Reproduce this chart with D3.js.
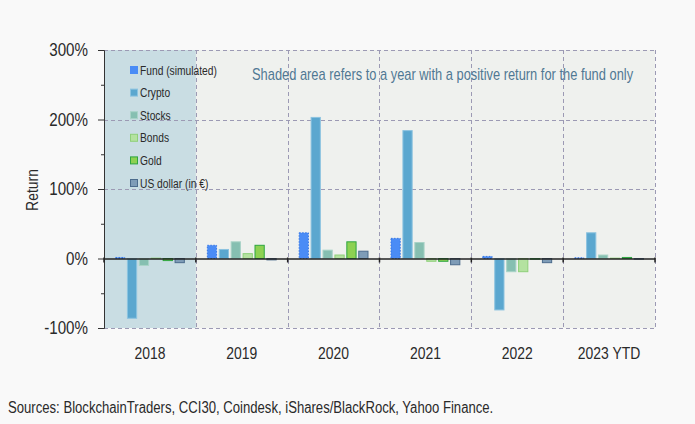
<!DOCTYPE html>
<html>
<head>
<meta charset="utf-8">
<script src="https://cdn.jsdelivr.net/npm/d3@7"></script>
<style>
  body { margin:0; background:#f9f9f9; }
  svg text { font-family: "Liberation Sans", Arial, sans-serif; }
</style>
</head>
<body>
<svg id="chart" width="695" height="424"></svg>
<script>
// data (returns in %)
let years = ["2018", "2019", "2020", "2021", "2022", "2023 YTD"];
let seriesNames = ["Fund (simulated)", "Crypto", "Stocks", "Bonds", "Gold", "US dollar (in €)"];
let fund   = [1.5, 19, 37, 29, 3, 1];
let crypto = [-86, 13, 203, 184, -74, 37];
let stocks = [-10, 24, 12, 23, -19, 5];
let bonds  = [0.5, 7, 5, -4, -19, 0.5];
let gold   = [-3, 19, 24, -4, -1, 1.5];
let usd    = [-6, -2, 10.5, -9, -6, -1];
let yTicks = [-100, 0, 100, 200, 300];
let shadedYears = ["2018"];

let seriesValues = [fund, crypto, stocks, bonds, gold, usd];
let styles = [
  {fill:"#4a8cf6", stroke:"#3576e6", dash:"1.5,1.5"},
  {fill:"#5ba7cf", stroke:"#8cc3e0", dash:null},
  {fill:"#86bfb1", stroke:"#a9d3c7", dash:null},
  {fill:"#b4e2a0", stroke:"#8fd07a", dash:null},
  {fill:"#8dd152", stroke:"#2ea640", dash:null},
  {fill:"#7e9cb7", stroke:"#4c6c8d", dash:null}
];

let W = 695, H = 424;
let P = {left:104, right:655, top:50, bottom:328};
let NARROW = 0.82; // Arial Narrow look from Liberation Sans
let svg = d3.select("#chart");

// squeeze text horizontally around its anchor point
function narrow(sel, pre){
  sel.each(function(){
    let t = d3.select(this);
    let tx = +t.attr("x")||0, ty = +t.attr("y")||0;
    t.attr("x",0).attr("y",0)
     .attr("transform",(pre||"")+"translate("+tx+","+ty+") scale("+NARROW+",1)");
  });
}

let x = d3.scaleBand().domain(years).range([P.left, P.right]);
let xi = d3.scaleBand().domain(seriesNames).range([11, x.bandwidth()-11]).paddingInner(0.14);
let y = d3.scaleLinear().domain([-100, 300]).range([P.bottom, P.top]);

// plot background
svg.append("rect").attr("x",P.left).attr("y",P.top)
  .attr("width",P.right-P.left).attr("height",P.bottom-P.top)
  .attr("fill","#eff1ee");

// shaded years
svg.selectAll("rect.shade").data(shadedYears).enter().append("rect")
  .attr("class","shade")
  .attr("x",d=>x(d)).attr("y",P.top)
  .attr("width",x.bandwidth()).attr("height",P.bottom-P.top)
  .attr("fill","#c9dde3");

// dashed grid
let grid = svg.append("g").attr("stroke","#9c9ab4").attr("stroke-dasharray","4,3").attr("stroke-width",1);
grid.selectAll("line.h").data(yTicks.filter(d=>d!==0)).enter().append("line")
  .attr("x1",P.left).attr("x2",P.right)
  .attr("y1",d=>Math.round(y(d))+0.5).attr("y2",d=>Math.round(y(d))+0.5);
grid.selectAll("line.v").data(years).enter().append("line")
  .attr("x1",d=>Math.round(x(d)+x.bandwidth())+0.5).attr("x2",d=>Math.round(x(d)+x.bandwidth())+0.5)
  .attr("y1",P.top).attr("y2",P.bottom);

// bars
let groups = svg.selectAll("g.year").data(years).enter().append("g")
  .attr("class","year")
  .attr("transform",d=>"translate("+x(d)+",0)");
groups.selectAll("rect").data((d,i)=>seriesNames.map((s,j)=>({s:s, j:j, v:seriesValues[j][i]})))
  .enter().append("rect")
  .attr("x",d=>xi(d.s)+0.5)
  .attr("width",xi.bandwidth()-1)
  .attr("y",d=>y(Math.max(0,d.v)))
  .attr("height",d=>Math.abs(y(d.v)-y(0)))
  .attr("fill",d=>styles[d.j].fill)
  .attr("stroke",d=>styles[d.j].stroke)
  .attr("stroke-dasharray",d=>styles[d.j].dash);

// y axis
let yAxis = svg.append("g").attr("transform","translate("+P.left+",0)")
  .call(d3.axisLeft(y).tickValues(yTicks).tickSize(6).tickFormat(d=>d+"%"));
yAxis.select(".domain").attr("stroke","#333");
yAxis.selectAll(".tick line").attr("stroke","#333");
yAxis.selectAll(".tick text").attr("font-size",18.5).attr("fill","#2a2a2a").attr("x",-16)
  .call(narrow);
svg.append("g").attr("transform","translate("+P.left+",0)")
  .call(d3.axisLeft(y).tickValues([-50,50,150,250]).tickSize(3).tickFormat(""))
  .call(g=>g.select(".domain").remove())
  .selectAll("line").attr("stroke","#333");

// zero line + category ticks
let xAxis = svg.append("g").attr("transform","translate(0,"+y(0)+")")
  .call(d3.axisBottom(x).tickValues([]).tickSizeOuter(0));
xAxis.select(".domain").attr("stroke","#222").attr("stroke-width",1.5);
xAxis.selectAll("line.sep").data([P.left].concat(years.map(d=>x(d)+x.bandwidth())))
  .enter().append("line").attr("class","sep")
  .attr("x1",d=>d).attr("x2",d=>d).attr("y1",-1).attr("y2",4)
  .attr("stroke","#222").attr("stroke-width",1.5);

// category labels
svg.selectAll("text.cat").data(years).enter().append("text")
  .attr("class","cat")
  .attr("x",d=>x(d)+x.bandwidth()/2).attr("y",359)
  .attr("text-anchor","middle").attr("font-size",17).attr("fill","#2a2a2a")
  .text(d=>d)
  .call(narrow);

// y label
svg.append("text").attr("x",-190).attr("y",38)
  .attr("text-anchor","middle").attr("font-size",17).attr("fill","#2a2a2a").text("Return")
  .call(narrow, "rotate(-90) ");

// legend
let lg = svg.selectAll("g.lg").data(seriesNames).enter().append("g")
  .attr("class","lg")
  .attr("transform",(d,i)=>"translate(130,"+(70+i*22.6)+")");
lg.append("rect").attr("x",0.5).attr("y",-3.5).attr("width",7).attr("height",7)
  .attr("fill",(d,i)=>styles[i].fill)
  .attr("stroke",(d,i)=>i===0?styles[0].fill:styles[i].stroke);
lg.append("text").attr("x",10).attr("y",4.5).attr("font-size",12.5).attr("fill","#2a2a2a").text(d=>d)
  .call(narrow);

// annotation
svg.append("text").attr("x",252).attr("y",80).attr("font-size",15.7).attr("fill","#4f7893")
  .text("Shaded area refers to a year with a positive return for the fund only")
  .call(narrow);

// sources
svg.append("text").attr("x",8).attr("y",413).attr("font-size",16).attr("fill","#2a2a2a")
  .text("Sources: BlockchainTraders, CCI30, Coindesk, iShares/BlackRock, Yahoo Finance.")
  .call(narrow);
</script>
</body>
</html>
